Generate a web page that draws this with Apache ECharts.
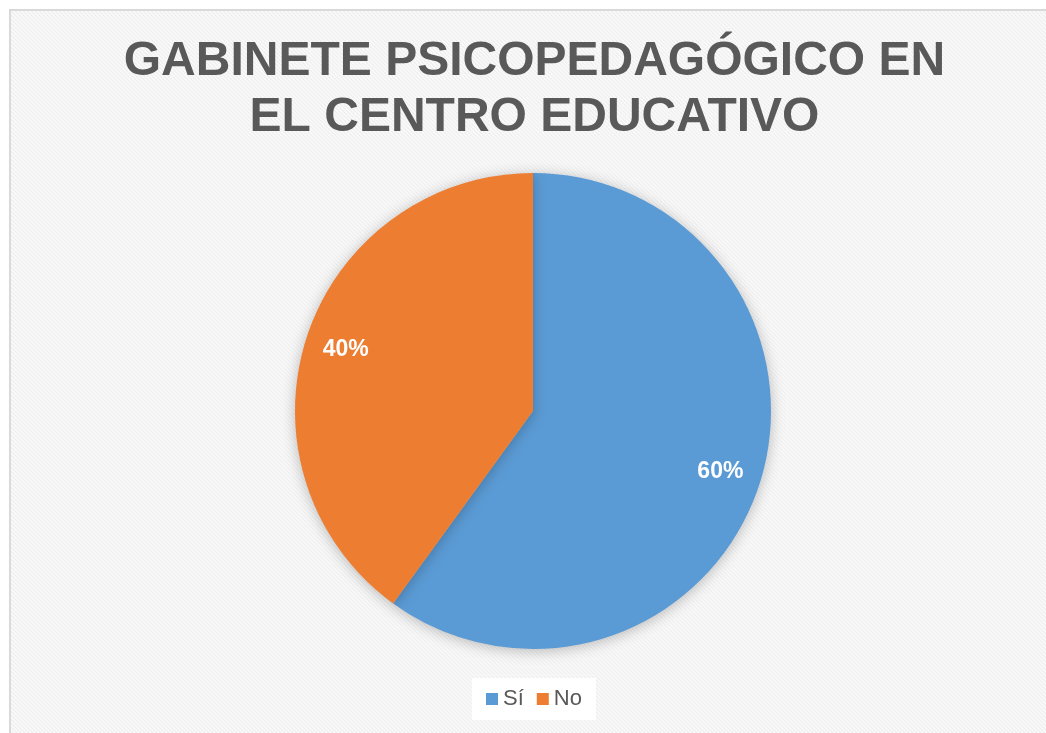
<!DOCTYPE html>
<html>
<head>
<meta charset="utf-8">
<script src="https://cdn.jsdelivr.net/npm/echarts@6/dist/echarts.min.js"></script>
<style>
  html, body { margin: 0; padding: 0; background: #fff; overflow: hidden; }
  #frame { position: absolute; left: 9px; top: 9px; width: 1100px; height: 800px;
           border-left: 2px solid #d9d9d9; border-top: 2px solid #d9d9d9; }
  #chart { position: absolute; left: 0; top: 0; width: 1047px; height: 722px; }
</style>
</head>
<body>
<div id="frame"><div id="chart"></div></div>
<script>
const titleText = 'GABINETE PSICOPEDAGÓGICO EN\nEL CENTRO EDUCATIVO'
const categories = ['Sí', 'No']
const values = [60, 40]
const colors = ['#5b9bd5', '#ed7d31']

// light diagonal texture like the office chart background
function makePattern() {
  let c = document.createElement('canvas')
  c.width = 8
  c.height = 8
  let ctx = c.getContext('2d')
  ctx.fillStyle = '#fbfbfb'
  ctx.fillRect(0, 0, 8, 8)
  ctx.strokeStyle = '#efefef'
  ctx.lineWidth = 1.5
  for (let k = -8; k <= 8; k += 4) {
    ctx.beginPath()
    ctx.moveTo(k, 0)
    ctx.lineTo(k + 8, 8)
    ctx.stroke()
  }
  return c
}

let pieData = categories.map((name, i) => ({
  name: name,
  value: values[i],
  itemStyle: { color: colors[i] }
}))

let chart = echarts.init(document.getElementById('chart'))
let option = {
  animation: false,
  backgroundColor: { image: makePattern(), repeat: 'repeat' },
  title: {
    text: titleText,
    left: 'center',
    top: 23,
    padding: 0,
    textStyle: {
      fontFamily: 'Liberation Sans, Arial, sans-serif',
      fontWeight: 'bold',
      fontSize: 48,
      lineHeight: 56,
      color: '#595959'
    }
  },
  legend: {
    data: categories,
    left: 461,
    top: 667,
    icon: 'rect',
    itemWidth: 12,
    itemHeight: 12,
    itemGap: 13,
    backgroundColor: '#ffffff',
    padding: [10, 14],
    textStyle: {
      fontFamily: 'Liberation Sans, Arial, sans-serif',
      fontSize: 22,
      color: '#595959'
    }
  },
  series: [
    {
      type: 'pie',
      center: [522, 400],
      radius: [0, 238],
      startAngle: 90,
      clockwise: true,
      silent: true,
      label: { show: false },
      labelLine: { show: false },
      itemStyle: {
        shadowBlur: 14,
        shadowColor: 'rgba(0,0,0,0.25)',
        shadowOffsetY: 2
      },
      data: pieData
    },
    {
      // transparent ring only used to place the percent labels
      type: 'pie',
      center: [522, 400],
      radius: [150, 238],
      startAngle: 90,
      clockwise: true,
      silent: true,
      itemStyle: { color: 'rgba(0,0,0,0)' },
      label: {
        show: true,
        position: 'inside',
        formatter: '{d}%',
        fontFamily: 'Liberation Sans, Arial, sans-serif',
        fontWeight: 'bold',
        fontSize: 23,
        color: '#ffffff'
      },
      labelLine: { show: false },
      data: categories.map((name, i) => ({ name: name, value: values[i] }))
    }
  ]
}
chart.setOption(option)
</script>
</body>
</html>
